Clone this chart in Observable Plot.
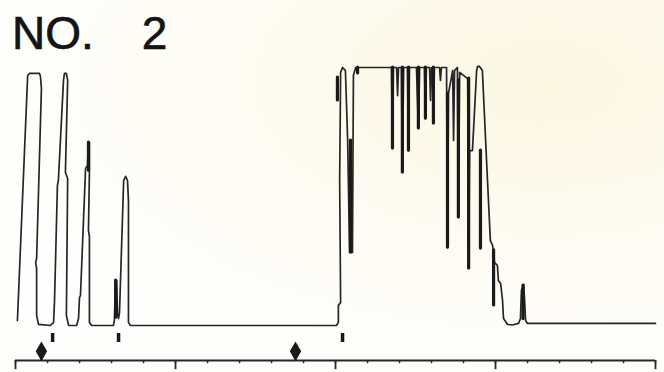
<!DOCTYPE html>
<html>
<head>
<meta charset="utf-8">
<script src="https://cdn.jsdelivr.net/npm/d3@7"></script>
<script src="https://cdn.jsdelivr.net/npm/@observablehq/plot@0.6"></script>
<style>
  html, body { margin: 0; padding: 0; }
  body { width: 664px; height: 372px; overflow: hidden;
    background: radial-gradient(ellipse at 82% 22%, #fbf7e2 0%, #fdfbf2 38%, #fefefc 72%); }
  #wrap { position: relative; width: 664px; height: 372px; }
  #title { position: absolute; left: 12px; top: 10px; font-family: "Liberation Sans", Arial, sans-serif;
    font-size: 46px; line-height: 46px; color: #141414; white-space: pre;
    -webkit-text-stroke: 0.7px #141414; }
  #title .n { margin-left: 48px; }
  #chart { position: absolute; left: 0; top: 0; }
</style>
</head>
<body>
<div id="wrap">
  <div id="title">NO.<span class="n">2</span></div>
  <div id="chart"></div>
</div>
<script>
// Trace (x in axis divisions 0–20, y in % of full scale)
const traceX = [
  0.06, 0.38, 0.44, 0.75, 0.78, 0.81, 0.66, 0.63, 0.66, 0.66, 0.72, 1.09,
  1.19, 1.22, 1.31, 1.34, 1.50, 1.53, 1.59, 1.63, 1.56, 1.63, 1.59, 1.66, 1.91,
  1.97, 2.00, 2.03, 2.19, 2.25, 2.28, 2.31, 2.31, 2.28, 2.31, 2.31, 2.38, 3.06,
  3.09, 3.13, 3.16, 3.19, 3.22, 3.25, 3.38, 3.44, 3.50, 3.53, 3.53, 3.59,
  10.03, 10.09, 10.09, 10.16, 10.13, 10.16, 10.22,
  10.31, 10.38, 10.44, 10.53, 10.56, 10.63,
  11.75, 11.78, 11.81, 11.91, 11.94, 11.97, 12.06, 12.09, 12.13, 12.25, 12.28, 12.31,
  12.53, 12.59, 12.63, 12.78, 12.81, 12.84, 12.94, 12.97, 13.00, 13.03, 13.06, 13.09,
  13.25, 13.28, 13.31, 13.47, 13.50, 13.53, 13.66, 13.69, 13.72, 13.81, 13.84, 13.88,
  14.13, 14.16, 14.19, 14.28, 14.41, 14.44, 14.50,
  14.59, 14.75, 14.84, 14.91, 14.97, 15.06, 15.09, 15.16, 15.22, 15.25, 15.38,
  15.53, 15.72, 15.78, 15.81, 15.88, 15.91, 15.94, 16.00, 20.00
];
const traceY = [
  1.9, 96.9, 97.7, 97.7, 96.5, 91.9, 26.0, 24.4, 22.1, 3.9, 0.4, 0,
  1.2, 9.7, 54.3, 56.2, 95.0, 97.7, 97.7, 95.0, 59.3, 57.0, 3.9, 0, 0,
  2.7, 10.9, 11.6, 60.9, 62.0, 70.9, 70.9, 59.3, 36.8, 34.5, 1.2, 0, 0,
  1.9, 17.4, 17.4, 3.9, 2.7, 5.0, 56.2, 57.8, 56.2, 48.4, 1.2, 0,
  0, 1.2, 7.8, 8.9, 56.2, 98.1, 100,
  98.8, 71.7, 28.3, 28.3, 96.9, 100,
  100, 68.6, 100, 100, 89.1, 100, 100, 59.3, 100, 100, 67.8, 100,
  100, 76.4, 100, 100, 80.2, 100, 100, 87.2, 100, 100, 78.3, 100,
  100, 95.0, 100, 100, 30.2, 89.9, 98.8, 71.7, 98.8, 100, 41.9, 98.1,
  95.7, 22.1, 67.8, 67.8, 98.8, 100.4, 100.4,
  98.8, 56.2, 32.9, 31.0, 24.4, 23.3, 17.4, 16.3, 9.7, 2.7, 0.4,
  0.2, 0.8, 2.7, 13.6, 15.9, 9.7, 1.9, 0.8, 0.8
];
// Heavy pen strokes
const spikeX      = [2.28, 3.13, 10.06, 10.47, 10.69, 11.78, 12.09, 12.28, 12.59, 12.81, 13.06, 13.50, 13.84, 14.16, 14.53, 14.94, 15.86];
const spikeTop    = [70.9, 17.4, 96.1, 71.7, 100, 100, 100, 100, 100, 100, 100, 89.9, 95.0, 95.7, 67.8, 29.1, 15.5];
const spikeBottom = [60.0, 3.0, 87.2, 28.3, 97.7, 68.6, 59.3, 67.8, 76.4, 80.2, 78.3, 30.2, 41.9, 22.1, 29.8, 7.8, 2.5];
// Event marks below the baseline
const eventX = [1.16, 3.22, 10.22];
const eventTop = -3.1, eventBottom = -6.6;
// Diamond markers above the axis
const diamondX = [0.81, 8.75];
const diamondY = -10.0;
// Axis
const axisLevel = -13.6;
const minorTicks = [0,1,2,3,4,5,6,7,8,9,10,11,12,13,14,15,16,17,18,19,20];
const majorTicks = [0,5,10,15,20];
const minorLen = 1.2, majorLen = 3.5;

const trace = traceX.map((x, i) => ({x, y: traceY[i]}));
const spikes = spikeX.map((x, i) => ({x, y1: spikeTop[i], y2: spikeBottom[i]}));
const ink = "#262626";

const chart = Plot.plot({
  width: 664, height: 372,
  marginLeft: 15, marginRight: 9, marginTop: 0, marginBottom: 12,
  x: {domain: [0, 20], axis: null},
  y: {domain: [0, 100], range: [325, 67], axis: null},
  style: {background: "transparent", overflow: "visible"},
  marks: [
    Plot.line(trace, {x: "x", y: "y", stroke: ink, strokeWidth: 1.7, curve: "linear", strokeLinejoin: "round"}),
    Plot.ruleX(spikes, {x: "x", y1: "y1", y2: "y2", stroke: "#1a1a1a", strokeWidth: 3.2, strokeLinecap: "round"}),
    Plot.ruleX(eventX, {x: d => d, y1: eventTop, y2: eventBottom, stroke: "#1a1a1a", strokeWidth: 3.5}),
    Plot.ruleY([axisLevel], {x1: 0, x2: 20, stroke: ink, strokeWidth: 2}),
    Plot.ruleX(minorTicks, {x: d => d, y1: axisLevel, y2: axisLevel - minorLen, stroke: ink, strokeWidth: 1.5}),
    Plot.ruleX(majorTicks, {x: d => d, y1: axisLevel, y2: axisLevel - majorLen, stroke: ink, strokeWidth: 1.8}),
    Plot.ruleX(diamondX, {x: d => d, y1: diamondY, y2: axisLevel, stroke: ink, strokeWidth: 2}),
    Plot.dot(diamondX, {x: d => d, y: diamondY, symbol: "diamond", r: 6, fill: "#1a1a1a", stroke: "none"})
  ]
});
document.getElementById("chart").append(chart);
</script>
</body>
</html>
